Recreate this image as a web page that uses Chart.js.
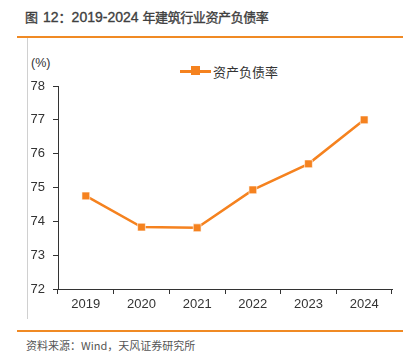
<!DOCTYPE html>
<html><head><meta charset="utf-8">
<script src="https://cdn.jsdelivr.net/npm/chart.js@4/dist/chart.umd.min.js"></script>
<style>
html,body{margin:0;padding:0;background:#fff;width:418px;height:361px;overflow:hidden;font-family:"Noto Sans CJK SC","Noto Sans",sans-serif;}
#wrap{position:absolute;left:0;top:0;width:418px;height:361px;}
.abs{position:absolute;white-space:nowrap;}
.cj{font-family:'Noto Sans CJK SC',sans-serif;font-size:13px;-webkit-text-stroke:0.35px #404040;}
.la{font-family:'Liberation Sans',Arial,sans-serif;font-size:14px;-webkit-text-stroke:0.35px #404040;}
</style></head><body>
<div class="abs" style="left:25px;top:6px;color:#404040;line-height:18px;"><span class="cj">图</span><span class="la" style="margin-left:5px;">12</span><span class="cj">：</span><span class="la">2019-2024 </span><span class="cj" style="letter-spacing:-0.4px;">年建筑行业资产负债率</span></div>
<div class="abs" style="left:17px;top:36px;width:386px;height:2px;background:#F08A24;"></div>
<div class="abs" style="left:27px;top:38px;width:1px;height:281px;background:#d0d0d0;"></div>
<div class="abs" style="left:31px;top:56px;font-size:12.5px;color:#333;font-family:'Liberation Sans',Arial,sans-serif;">(%)</div>
<div class="abs" style="left:180px;top:60px;font-size:13px;color:#333;">
  <span style="display:inline-block;position:relative;width:31px;height:14px;vertical-align:middle;">
    <span style="position:absolute;left:0;top:6px;width:31px;height:2.5px;background:#F5821F;"></span>
    <span style="position:absolute;left:11px;top:2px;width:9px;height:9px;background:#F5821F;"></span>
  </span><span style="vertical-align:middle;margin-left:2px;">资产负债率</span>
</div>
<div class="abs" style="left:17px;top:330px;width:386px;height:2px;background:#F08A24;"></div>
<div class="abs" style="left:26px;top:337px;font-size:11px;color:#555;">资料来源：Wind，天风证券研究所</div>
<div id="wrap"><canvas id="c" width="418" height="361"></canvas></div>
<script>
const categories = ["2019","2020","2021","2022","2023","2024"];
const debtRatio = [74.75, 73.83, 73.81, 74.93, 75.70, 77.00];
const yTicks = [72,73,74,75,76,77,78];
const seriesName = "资产负债率";
const orange = "#F5821F";
const axisColor = "#333";

new Chart(document.getElementById('c'), {
  type: 'line',
  data: {
    labels: categories,
    datasets: [{
      label: seriesName,
      data: debtRatio,
      borderColor: orange,
      backgroundColor: orange,
      borderWidth: 2.5,
      pointStyle: 'rect',
      pointRadius: 5.5,
      pointHoverRadius: 5.5,
      pointBackgroundColor: orange,
      pointBorderColor: 'rgba(255,255,255,0.6)',
      pointBorderWidth: 1,
      tension: 0
    }]
  },
  options: {
    responsive: false,
    animation: false,
    devicePixelRatio: 1,
    layout: { padding: { left: 0, right: 26, top: 86, bottom: 0 } },
    plugins: { legend: { display: false }, title: { display: false }, tooltip: { enabled: false } },
    scales: {
      x: {
        type: 'category',
        offset: true,
        grid: { display: true, drawOnChartArea: false, offset: true, drawTicks: true, tickLength: 5, color: axisColor, lineWidth: 1 },
        border: { display: true, color: axisColor, width: 1 },
        ticks: { color: '#333', font: { size: 13, family: "'Liberation Sans', Arial, sans-serif" }, padding: 3, maxRotation: 0 },
        afterFit: s => { s.height = 72; }
      },
      y: {
        min: 72, max: 78,
        afterBuildTicks: s => { s.ticks = yTicks.map(v => ({ value: v })); },
        grid: { display: true, drawOnChartArea: false, drawTicks: true, tickLength: 5, color: axisColor, lineWidth: 1 },
        border: { display: true, color: axisColor, width: 1 },
        ticks: { color: '#333', font: { size: 13, family: "'Liberation Sans', Arial, sans-serif" }, padding: 8 },
        afterFit: s => { s.width = 58; }
      }
    }
  }
});
</script>
</body></html>
